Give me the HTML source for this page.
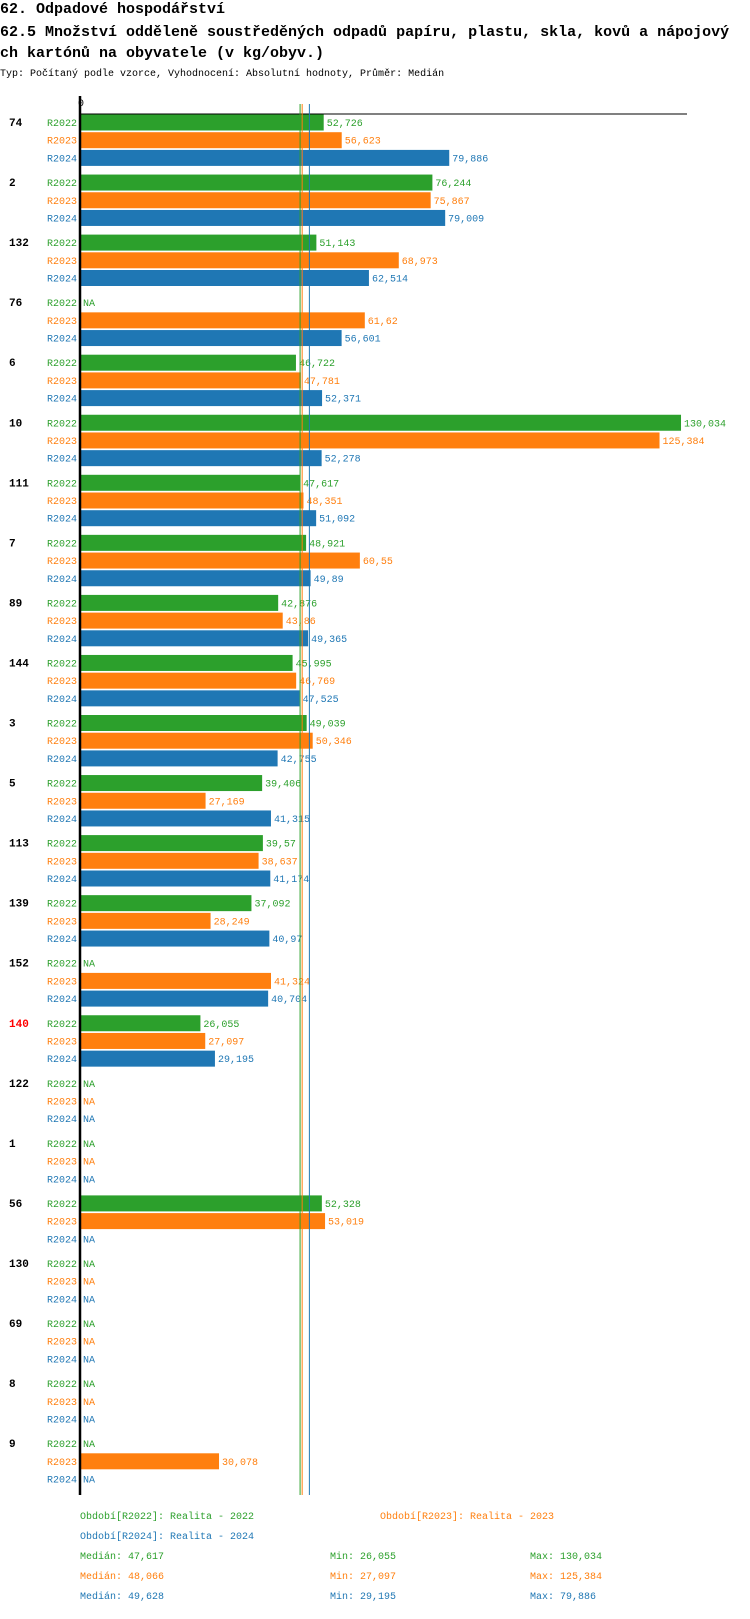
<!DOCTYPE html>
<html><head><meta charset="utf-8">
<style>
html,body{margin:0;padding:0;background:#fff;}
body{width:750px;height:1614px;overflow:hidden;font-family:"Liberation Mono","DejaVu Sans Mono",monospace;}
svg text{font-family:"Liberation Mono","DejaVu Sans Mono",monospace;}
</style></head>
<body>
<svg id="chart" width="750" height="1614" xmlns="http://www.w3.org/2000/svg">
<text x="0" y="13" font-size="15" font-weight="bold">62. Odpadové hospodářství</text>
<text x="0" y="36" font-size="15" font-weight="bold">62.5 Množství odděleně soustředěných odpadů papíru, plastu, skla, kovů a nápojový</text>
<text x="0" y="57" font-size="15" font-weight="bold">ch kartónů na obyvatele (v kg/obyv.)</text>
<text x="0" y="76" font-size="10">Typ: Počítaný podle vzorce, Vyhodnocení: Absolutní hodnoty, Průměr: Medián</text>
<g id="plot"></g>
</svg>
<script>
const categories=["74","2","132","76","6","10","111","7","89","144","3","5","113","139","152","140","122","1","56","130","69","8","9"];
const highlighted=["140"];
const seriesNames=["R2022","R2023","R2024"];
const r2022=[52.726,76.244,51.143,null,46.722,130.034,47.617,48.921,42.876,45.995,49.039,39.406,39.57,37.092,null,26.055,null,null,52.328,null,null,null,null];
const r2023=[56.623,75.867,68.973,61.62,47.781,125.384,48.351,60.55,43.86,46.769,50.346,27.169,38.637,28.249,41.324,27.097,null,null,53.019,null,null,null,30.078];
const r2024=[79.886,79.009,62.514,56.601,52.371,52.278,51.092,49.89,49.365,47.525,42.755,41.315,41.174,40.97,40.704,29.195,null,null,null,null,null,null,null];
const medians=[47.617,48.066,49.628];
const mins=[26.055,27.097,29.195];
const maxs=[130.034,125.384,79.886];
const colors=["#2ca02c","#ff7f0e","#1f77b4"];
const NS="http://www.w3.org/2000/svg";
const g=document.getElementById('plot');
const x0=80, kx=4.622;
const xs=v=>x0+v*kx;
const rowY=(gi,ri)=>122+gi*60.05+ri*17.7;
const fmt=v=>String(v).replace('.',',');
function mk(t,a){const e=document.createElementNS(NS,t);for(const k in a)e.setAttribute(k,a[k]);g.appendChild(e);return e;}
const series=[r2022,r2023,r2024];
// top line and axis
let e=mk('line',{x1:x0,y1:114,x2:687,y2:114,stroke:'#000','stroke-width':1});


e=mk('text',{x:x0-2,y:106,'font-size':10});e.textContent='0';


categories.forEach((c,gi)=>{
  const t=mk('text',{x:9,y:rowY(gi,0)+4,'font-size':11,'font-weight':'bold',fill:highlighted.includes(c)?'#ff0000':'#000'});
  t.textContent=c;
  
  
  series.forEach((s,ri)=>{
    const y=rowY(gi,ri);
    const l=mk('text',{x:77,y:y+4,'font-size':10,fill:colors[ri],'text-anchor':'end'});
    l.textContent=seriesNames[ri];
    
    
    const v=s[gi];
    if(v==null){
      const n=mk('text',{x:x0+3,y:y+4,'font-size':10,fill:colors[ri]});n.textContent='NA';
      
      
    }else{
      const b=mk('rect',{x:x0,y:y-7.5,width:xs(v)-x0,height:16,fill:colors[ri]});
      
      
      const vl=mk('text',{x:xs(v)+3,y:y+4,'font-size':10,fill:colors[ri]});vl.textContent=fmt(v);
      
      
    }
  });
});
medians.forEach((m,i)=>{
  const l=mk('line',{x1:xs(m),y1:104,x2:xs(m),y2:1495,stroke:colors[i],'stroke-width':1});
  
  
});
e=mk('line',{x1:x0,y1:96,x2:x0,y2:1495,stroke:'#000','stroke-width':2.5});


// legend
const legTexts=["Období[R2022]: Realita - 2022","Období[R2023]: Realita - 2023","Období[R2024]: Realita - 2024"];
const legPos=[[80,1519],[380,1519],[80,1539]];
legTexts.forEach((t,i)=>{
  const n=mk('text',{x:legPos[i][0],y:legPos[i][1],'font-size':10,fill:colors[i]});n.textContent=t;
  
  
});
[0,1,2].forEach(i=>{
  const y=1559+i*20;
  let n=mk('text',{x:80,y:y,'font-size':10,fill:colors[i]});n.textContent='Medián: '+fmt(medians[i]);
  
  
  n=mk('text',{x:330,y:y,'font-size':10,fill:colors[i]});n.textContent='Min: '+fmt(mins[i]);
  
  
  n=mk('text',{x:530,y:y,'font-size':10,fill:colors[i]});n.textContent='Max: '+fmt(maxs[i]);
  
  
});
</script>
</body></html>
